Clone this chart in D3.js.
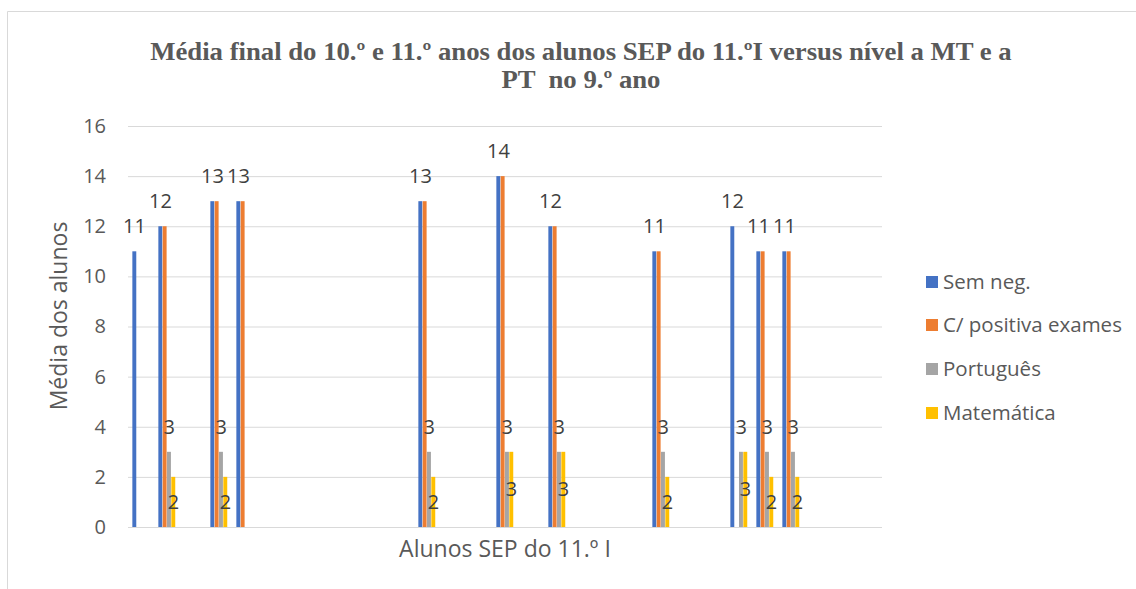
<!DOCTYPE html>
<html><head><meta charset="utf-8">
<script src="https://cdn.jsdelivr.net/npm/d3@7"></script>
<style>html,body{margin:0;padding:0;background:#fff;}svg{display:block;}</style>
</head><body>
<svg id="c" width="1136" height="589"></svg>
<script>
const categories = d3.range(29).map(i => "A" + (i + 1));
const semNeg     = [11,12,null,13,13,null,null,null,null,null,null,13,null,null,14,null,12,null,null,null,11,null,null,12,11,11,null,null,null];
const cPositiva  = [null,12,null,13,13,null,null,null,null,null,null,13,null,null,14,null,12,null,null,null,11,null,null,null,11,11,null,null,null];
const portugues  = [null,3,null,3,null,null,null,null,null,null,null,3,null,null,3,null,3,null,null,null,3,null,null,3,3,3,null,null,null];
const matematica = [null,2,null,2,null,null,null,null,null,null,null,2,null,null,3,null,3,null,null,null,2,null,null,3,2,2,null,null,null];
const seriesNames = ["Sem neg.", "C/ positiva exames", "Português", "Matemática"];
const colors = ["#4472C4", "#ED7D31", "#A5A5A5", "#FFC000"];
const yTicks = [0,2,4,6,8,10,12,14,16];

const seriesVals = [semNeg, cPositiva, portugues, matematica];
const svg = d3.select("#c");
const font = "'Open Sans', 'Liberation Sans', sans-serif";
const gray = "#595959";

// chart border
svg.append("path").attr("d","M7.5,589 V11.5 H1136").attr("fill","none").attr("stroke","#d9d9d9").attr("stroke-width",1);

const pL = 128, pR = 882, pT = 126, pB = 527;
const x0 = d3.scaleBand().domain(categories).range([pL, pR]).padding(0);
const inner = x0.bandwidth() * 0.665;
const x1 = d3.scaleBand().domain(d3.range(4)).range([(x0.bandwidth()-inner)/2, (x0.bandwidth()+inner)/2]);
const y = d3.scaleLinear().domain([0,16]).range([pB, pT]);

// gridlines
const yAxis = d3.axisLeft(y).tickValues(yTicks).tickSize(-(pR-pL)).tickPadding(22).tickFormat(d3.format("d"));
const gA = svg.append("g").attr("transform",`translate(${pL},0)`).call(yAxis);
gA.select(".domain").remove();
gA.selectAll(".tick line").attr("stroke","#d9d9d9").attr("stroke-width",1);
gA.selectAll(".tick text").attr("fill",gray).attr("font-family",font).attr("font-size",20);

// bars
const data = categories.map((c,i)=>({c, vals: seriesVals.map(s=>s[i])}));
const groups = svg.append("g").selectAll("g").data(data).join("g")
  .attr("transform", d=>`translate(${x0(d.c)},0)`);
groups.selectAll("rect").data(d=>d.vals.map((v,k)=>({v,k})).filter(e=>e.v!=null)).join("rect")
  .attr("x", e=>x1(e.k)).attr("width", x1.bandwidth()-0.4)
  .attr("y", e=>y(e.v)).attr("height", e=>y(0)-y(e.v))
  .attr("fill", e=>colors[e.k]);

// labels: blue & grey above, yellow centered
const lab = svg.append("g").attr("font-family",font).attr("font-size",20).attr("fill","#404040").attr("text-anchor","middle");
data.forEach(d=>{
  d.vals.forEach((v,k)=>{
    if (v==null || k===1) return;
    const cx = x0(d.c) + x1(k) + x1.bandwidth()/2;
    let yy;
    if (k===3) yy = y(v/2) + 7;
    else yy = y(v) - 18;
    lab.append("text").attr("x",cx).attr("y",yy).text(v);
  });
});

// title
const tFont = "'Liberation Serif','Times New Roman',serif";
const tY = [60, 88];
const t1 = svg.append("text").attr("x",581).attr("y",tY[0]).attr("text-anchor","middle")
  .attr("font-family",tFont).attr("font-weight","bold")
  .attr("font-size",25).attr("fill",gray)
  .text("Média final do 10.º e 11.º anos dos alunos SEP do 11.ºI versus nível a MT e a");
const t2 = svg.append("text").attr("x",581).attr("y",tY[1]).attr("text-anchor","middle")
  .attr("font-family",tFont).attr("font-weight","bold")
  .attr("font-size",25).attr("fill",gray).style("white-space","pre")
  .text("PT  no 9.º ano");
const w1 = t1.node().getComputedTextLength();
const sx = 862 / w1;
[t1,t2].forEach((t,i)=>{
  const yy = tY[i];
  t.attr("transform",`translate(581,${yy}) scale(${sx},1) translate(-581,${-yy})`);
});

// axis titles
svg.append("text").attr("x",505).attr("y",557).attr("text-anchor","middle")
  .attr("font-family",font).attr("font-size",23).attr("fill",gray).text("Alunos SEP do 11.º I");
svg.append("text").attr("transform","translate(67,316) rotate(-90)").attr("text-anchor","middle")
  .attr("font-family",font).attr("font-size",23).attr("fill",gray).text("Média dos alunos");

// legend
const lg = svg.append("g");
const ly = [282,325,369,413];
seriesNames.forEach((n,k)=>{
  lg.append("rect").attr("x",926).attr("y",ly[k]-6).attr("width",12).attr("height",12).attr("fill",colors[k]);
  lg.append("text").attr("x",943).attr("y",ly[k]+7).attr("font-family",font).attr("font-size",20.5).attr("fill",gray).text(n);
});
</script>
</body></html>
